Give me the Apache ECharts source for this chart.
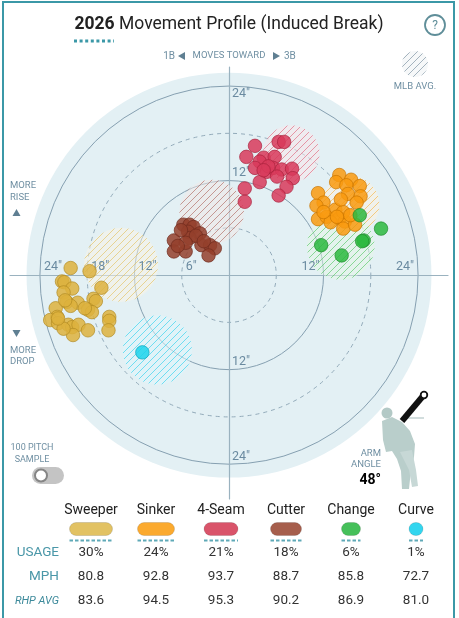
<!DOCTYPE html>
<html>
<head>
<meta charset="utf-8">
<script src="https://cdn.jsdelivr.net/npm/echarts@6/dist/echarts.min.js"></script>
<style>
  html, body { margin: 0; padding: 0; background: #fff; }
  #main { width: 459px; height: 618px; }
</style>
</head>
<body>
<div id="main"></div>
<script>
// pitch mix table
var pitchNames = ["Sweeper", "Sinker", "4-Seam", "Cutter", "Change", "Curve"]
var usage = [30, 24, 21, 18, 6, 1]
var mph = [80.8, 92.8, 93.7, 88.7, 85.8, 72.7]
var rhpAvg = [83.6, 94.5, 95.3, 90.2, 86.9, 81.0]

// break rings (inches)
var ringRadii = [6, 12, 18, 24]
var ringDashed = [true, false, true, false]
var leftTicks = [24, 18, 12, 6]
var rightTicks = [12, 24]
var upTicks = [24, 12]
var downTicks = [12, 24]
var discRadius = 25.7

// pitches: [horizontal break, induced vertical break]
var sweeper = [
  [-20.1, 0.9], [-17.7, 0.5], [-21.2, -0.8], [-20.9, -0.9], [-19.9, -1.7], [-16.2, -1.6],
  [-21.0, -2.2], [-20.6, -3.4], [-19.2, -3.5], [-20.1, -3.9], [-17.2, -3.0], [-16.9, -3.3],
  [-17.9, -4.4], [-17.4, -4.7], [-22.0, -4.2], [-21.8, -5.3], [-22.7, -5.7], [-21.7, -6.1],
  [-15.2, -5.3], [-15.2, -5.8], [-15.3, -7.0], [-20.4, -6.3], [-19.9, -6.6], [-19.1, -6.3],
  [-17.9, -7.0], [-19.8, -7.6], [-21.0, -6.8], [-21.7, -5.5], [-20.8, -3.2], [-18.3, -4.2],
]
var sinker = [
  [14.0, 12.7], [13.6, 11.8], [15.5, 12.1], [14.9, 11.4], [16.6, 11.3], [15.1, 10.3],
  [16.7, 10.0], [11.3, 10.4], [12.0, 9.2], [11.1, 8.8], [13.5, 8.3], [11.3, 7.1],
  [12.4, 7.4], [14.0, 7.2], [14.7, 6.8], [14.5, 5.9], [16.0, 6.4], [12.9, 6.7],
  [16.2, 9.2], [14.5, 8.0], [15.4, 7.6], [12.0, 8.0], [13.7, 7.4], [14.2, 9.6],
]
var fourSeam = [
  [3.3, 16.4], [6.3, 16.9], [7.0, 16.9], [2.2, 15.0], [4.4, 14.9], [3.9, 14.4],
  [5.8, 15.0], [3.3, 13.6], [4.8, 13.1], [5.6, 13.6], [6.7, 13.4], [8.0, 13.5],
  [8.1, 12.3], [6.1, 12.5], [3.9, 11.8], [7.3, 11.2], [6.3, 10.1], [2.0, 11.0],
  [2.0, 9.3], [5.0, 13.8], [4.4, 13.3],
]
var cutter = [
  [-5.8, 6.4], [-5.0, 6.4], [-4.5, 6.1], [-5.2, 5.5], [-3.7, 5.3], [-7.0, 4.4],
  [-5.0, 4.7], [-3.5, 3.8], [-2.4, 3.8], [-1.8, 3.4], [-2.6, 2.5], [-7.0, 3.0],
  [-5.5, 3.0], [-6.1, 5.7], [-4.2, 5.0], [-5.5, 4.1], [-3.2, 4.3], [-6.5, 3.7],
]
var change = [[16.6, 7.6], [19.3, 5.9], [17.1, 4.4], [16.9, 4.3], [11.7, 3.8], [14.3, 2.5]]
var curve = [[-11.0, -9.8]]

// MLB average: [x, y, spread]
var mlbAvg = [
  [-13.7, 1.3, 4.7],
  [15.4, 8.9, 3.7],
  [7.9, 15.4, 3.6],
  [-2.2, 8.0, 4.1],
  [14.2, 3.7, 4.3],
  [-9.1, -9.5, 4.4],
]

var pitchData = [sweeper, sinker, fourSeam, cutter, change, curve]
var pillColors = ["#e2c263", "#fbaa2f", "#d9546a", "#a65e4c", "#46c05a", "#33d6ef"]
var dotColors = ["#ddb23d", "#f99a0f", "#d83a5a", "#94402c", "#2bb83e", "#1cd3ec"]
var dotBorders = ["#b08a22", "#c77400", "#a8203c", "#6d2a1c", "#1f8a2c", "#10a5bb"]
var hatchRgb = ["225,190,85", "245,175,55", "222,90,115", "170,95,85", "75,195,90", "35,205,235"]

var FONT = "Roboto, 'Noto Sans', sans-serif"
var TEAL = "#3b98a7"
var MUTED = "#6f8fa2"

function hatch(rgb, lineAlpha) {
  var s = 7
  var c = document.createElement("canvas")
  c.width = s
  c.height = s
  var g = c.getContext("2d")
  g.fillStyle = "rgba(255,255,255,0.45)"
  g.fillRect(0, 0, s, s)
  g.fillStyle = "rgba(" + rgb + ",0.07)"
  g.fillRect(0, 0, s, s)
  g.strokeStyle = "rgba(" + rgb + "," + lineAlpha + ")"
  g.lineWidth = 1
  g.beginPath()
  g.moveTo(0, s); g.lineTo(s, 0)
  g.moveTo(-1, 1); g.lineTo(1, -1)
  g.moveTo(s - 1, s + 1); g.lineTo(s + 1, s - 1)
  g.stroke()
  return { image: c, repeat: "repeat" }
}

var patterns = hatchRgb.map(function (rgb) { return hatch(rgb, 0.6) })
var grayPattern = hatch("130,150,165", 0.7)

var chart = echarts.init(document.getElementById("main"), null, { renderer: "canvas" })

// ring tick labels
var tickData = []
leftTicks.forEach(function (r) { tickData.push([-r, 0, r, 0]) })
rightTicks.forEach(function (r) { tickData.push([r, 0, r, 1]) })
upTicks.forEach(function (r) { tickData.push([0, r, r, r === 24 ? 2 : 3]) })
downTicks.forEach(function (r) { tickData.push([0, -r, r, 3]) })

var series = [
  {
    type: "custom",
    z: -3,
    silent: true,
    data: [[0, 0, discRadius]],
    renderItem: function (params, api) {
      var c = api.coord([0, 0])
      var r = api.size([api.value(2), 0])[0]
      return { type: "circle", shape: { cx: c[0], cy: c[1], r: r }, style: { fill: "#e3f0f4" } }
    },
  },
  {
    type: "custom",
    z: -2,
    silent: true,
    data: ringRadii.map(function (r, i) { return [0, 0, r, ringDashed[i] ? 1 : 0] }),
    renderItem: function (params, api) {
      var c = api.coord([0, 0])
      var r = api.size([api.value(2), 0])[0]
      var dashed = api.value(3) === 1
      return {
        type: "circle",
        shape: { cx: c[0], cy: c[1], r: r },
        style: {
          fill: null,
          stroke: dashed ? "#93abba" : "#86a0b1",
          lineWidth: 1,
          lineDash: dashed ? [4, 4] : null,
        },
      }
    },
  },
  {
    type: "custom",
    z: 1,
    silent: true,
    data: mlbAvg,
    renderItem: function (params, api) {
      var c = api.coord([api.value(0), api.value(1)])
      var r = api.size([api.value(2), 0])[0]
      return {
        type: "circle",
        shape: { cx: c[0], cy: c[1], r: r },
        style: { fill: patterns[params.dataIndex] },
      }
    },
  },
  {
    type: "custom",
    z: 2,
    silent: true,
    data: tickData,
    renderItem: function (params, api) {
      var p = api.coord([api.value(0), api.value(1)])
      var pos = api.value(3)
      var txt = api.value(2) + '"'
      var st = { text: txt, fill: "#6a8aa0", font: "12.5px " + FONT }
      var x = p[0], y = p[1]
      if (pos === 0) { x += 4; y -= 2; st.align = "left"; st.verticalAlign = "bottom" }
      else if (pos === 1) { x -= 4; y -= 2; st.align = "right"; st.verticalAlign = "bottom" }
      else if (pos === 2) { x += 3; y += 1; st.align = "left"; st.verticalAlign = "top" }
      else { x += 3; y -= 1; st.align = "left"; st.verticalAlign = "bottom" }
      return { type: "text", x: x, y: y, style: st }
    },
  },
]

pitchData.forEach(function (pts, i) {
  series.push({
    type: "scatter",
    name: pitchNames[i],
    z: 3,
    symbolSize: 13.5,
    data: pts,
    itemStyle: {
      color: dotColors[i],
      opacity: 0.85,
      borderColor: dotBorders[i],
      borderWidth: 0.8,
    },
  })
})

// static labels around the plot and the table
var g = []
g.push({ type: "rect", shape: { x: 3, y: 2, width: 451, height: 700 }, style: { fill: null, stroke: TEAL, lineWidth: 2 } })
g.push({
  type: "text", x: 229, y: 25,
  style: {
    text: "{b|2026} Movement Profile (Induced Break)",
    align: "center", verticalAlign: "middle",
    font: "17.5px " + FONT, fill: "#222",
    rich: { b: { fontWeight: "bold", fontSize: 17.5, fontFamily: FONT, fill: "#222" } },
  },
})
g.push({ type: "line", shape: { x1: 74, y1: 41, x2: 114, y2: 41 }, style: { stroke: TEAL, lineWidth: 3, lineDash: [3, 2.6] } })
g.push({ type: "circle", shape: { cx: 435, cy: 25, r: 10 }, style: { fill: "#fff", stroke: "#5f8e99", lineWidth: 1.8 } })
g.push({ type: "text", x: 435, y: 25.5, style: { text: "?", align: "center", verticalAlign: "middle", font: "12px " + FONT, fill: "#5f8e99" } })

// moves toward
g.push({ type: "text", x: 175, y: 56, style: { text: "1B", align: "right", verticalAlign: "middle", font: "10px " + FONT, fill: MUTED } })
g.push({ type: "polygon", shape: { points: [[178, 56], [185, 52], [185, 60]] }, style: { fill: "#5f7f92" } })
g.push({ type: "text", x: 229, y: 56, style: { text: "MOVES TOWARD", align: "center", verticalAlign: "middle", font: "9.5px " + FONT, fill: MUTED } })
g.push({ type: "polygon", shape: { points: [[280, 56], [273, 52], [273, 60]] }, style: { fill: "#5f7f92" } })
g.push({ type: "text", x: 284, y: 56, style: { text: "3B", align: "left", verticalAlign: "middle", font: "10px " + FONT, fill: MUTED } })

// MLB avg key
g.push({ type: "circle", shape: { cx: 415, cy: 64, r: 13 }, style: { fill: grayPattern } })
g.push({ type: "text", x: 415, y: 87, style: { text: "MLB AVG.", align: "center", verticalAlign: "middle", font: "9.5px " + FONT, fill: MUTED } })

// rise / drop
g.push({ type: "text", x: 10, y: 186, style: { text: "MORE", verticalAlign: "middle", font: "9.5px " + FONT, fill: MUTED } })
g.push({ type: "text", x: 10, y: 198, style: { text: "RISE", verticalAlign: "middle", font: "9.5px " + FONT, fill: MUTED } })
g.push({ type: "polygon", shape: { points: [[16.5, 209], [20.5, 216], [12.5, 216]] }, style: { fill: "#5f7f92" } })
g.push({ type: "polygon", shape: { points: [[12.5, 330], [20.5, 330], [16.5, 337]] }, style: { fill: "#5f7f92" } })
g.push({ type: "text", x: 10, y: 351, style: { text: "MORE", verticalAlign: "middle", font: "9.5px " + FONT, fill: MUTED } })
g.push({ type: "text", x: 10, y: 362, style: { text: "DROP", verticalAlign: "middle", font: "9.5px " + FONT, fill: MUTED } })

// sample toggle
g.push({ type: "text", x: 32, y: 448, style: { text: "100 PITCH", align: "center", verticalAlign: "middle", font: "9px " + FONT, fill: MUTED } })
g.push({ type: "text", x: 32, y: 460, style: { text: "SAMPLE", align: "center", verticalAlign: "middle", font: "9px " + FONT, fill: MUTED } })
g.push({ type: "rect", shape: { x: 32, y: 467, width: 32, height: 17, r: 8.5 }, style: { fill: "#c4c4c4" } })
g.push({ type: "circle", shape: { cx: 41, cy: 475.5, r: 6 }, style: { fill: "#fff", stroke: "#858585", lineWidth: 2 } })

// arm angle figure
g.push({
  type: "polygon",
  shape: { points: [[382, 421], [392, 417], [402, 422], [410, 431], [415, 444], [414, 457], [411, 470], [409, 489], [402, 489], [401, 471], [397, 459], [392, 451], [386, 452], [383, 440]] },
  style: { fill: "#b9cecb" },
})
g.push({ type: "polygon", shape: { points: [[400, 452], [412, 450], [416, 470], [418, 486], [412, 487], [409, 470]] }, style: { fill: "#c7d8d6" } })
g.push({ type: "circle", shape: { cx: 387, cy: 413, r: 5.5 }, style: { fill: "#b3c9c6" } })
g.push({ type: "line", shape: { x1: 404, y1: 418, x2: 424, y2: 418 }, style: { stroke: "#c3d2d2", lineWidth: 1.5 } })
g.push({ type: "line", shape: { x1: 402, y1: 421, x2: 423, y2: 396 }, style: { stroke: "#111", lineWidth: 6 } })
g.push({ type: "circle", shape: { cx: 424, cy: 395, r: 3.3 }, style: { fill: "#fff", stroke: "#111", lineWidth: 1.8 } })
g.push({ type: "text", x: 381, y: 454, style: { text: "ARM", align: "right", verticalAlign: "middle", font: "9.5px " + FONT, fill: MUTED } })
g.push({ type: "text", x: 381, y: 465, style: { text: "ANGLE", align: "right", verticalAlign: "middle", font: "9.5px " + FONT, fill: MUTED } })
g.push({ type: "text", x: 381, y: 480, style: { text: "48°", align: "right", verticalAlign: "middle", font: "bold 14px " + FONT, fill: "#000" } })

// table
var rowLabels = ["USAGE", "MPH", "RHP AVG"]
var rowY = [553, 577, 601]
rowLabels.forEach(function (lbl, j) {
  g.push({
    type: "text", x: 59, y: rowY[j],
    style: {
      text: lbl, align: "right", verticalAlign: "middle",
      font: (j === 2 ? "italic 11px " : "13.5px ") + FONT, fill: j === 2 ? "#3d8a9b" : "#4a97a8",
    },
  })
})
pitchNames.forEach(function (name, i) {
  var cx = 91 + i * 65
  var w = 13 + usage[i]
  g.push({ type: "text", x: cx, y: 510, style: { text: name, align: "center", verticalAlign: "middle", font: "14px " + FONT, fill: "#222" } })
  g.push({ type: "rect", shape: { x: cx - w / 2, y: 522.5, width: w, height: 13, r: 6.5 }, style: { fill: pillColors[i], stroke: "rgba(0,0,0,0.12)", lineWidth: 1 } })
  g.push({ type: "line", shape: { x1: cx - w / 2, y1: 540.5, x2: cx + w / 2, y2: 540.5 }, style: { stroke: "#5fa9b7", lineWidth: 2, lineDash: [3.5, 2] } })
  var vals = [usage[i] + "%", mph[i].toFixed(1), rhpAvg[i].toFixed(1)]
  vals.forEach(function (v, j) {
    g.push({ type: "text", x: cx, y: rowY[j], style: { text: v, align: "center", verticalAlign: "middle", font: "13.5px " + FONT, fill: "#333" } })
  })
})

var option = {
  animation: false,
  backgroundColor: "#fff",
  grid: { left: 10, top: 67, width: 438, height: 432 },
  xAxis: {
    type: "value", min: -27.8, max: 27.8,
    axisLine: { onZero: true, lineStyle: { color: "#9ab2bf", width: 1.2 } },
    axisTick: { show: false }, axisLabel: { show: false }, splitLine: { show: false },
  },
  yAxis: {
    type: "value", min: -28.4, max: 26.4,
    axisLine: { onZero: true, lineStyle: { color: "#9ab2bf", width: 1.2 } },
    axisTick: { show: false }, axisLabel: { show: false }, splitLine: { show: false },
  },
  graphic: { elements: g },
  series: series,
}

chart.setOption(option)
</script>
</body>
</html>
